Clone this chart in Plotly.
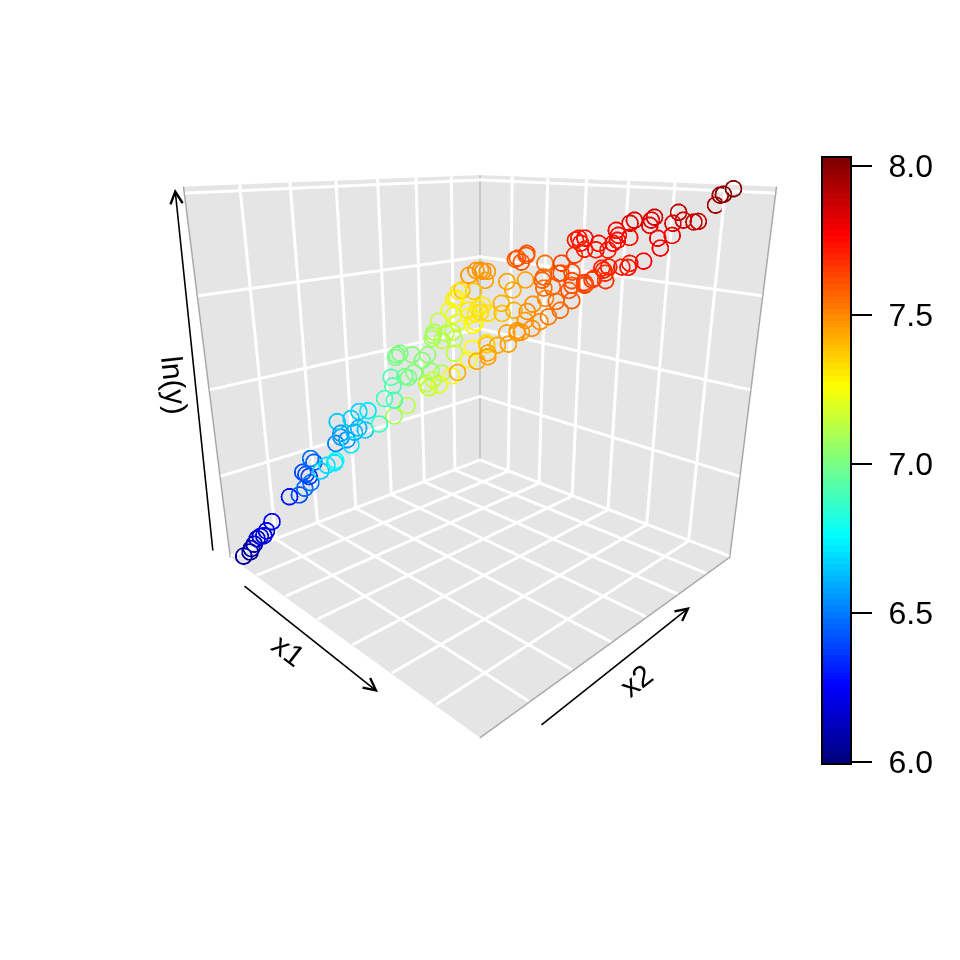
import plotly.graph_objects as go

# values (x1 and x2 have no tick labels, so they are on a 0-1 scale)
x1 = [.06,.06,.07,.07,.09,.11,.13,.11,.09,.04,.18,.21,.21,.04,.04,.04,
      .04,.04,.31,.34,.41,.36,.04,.04,.07,.29,.04,.04,.04,.10,.04,.11,
      .09,.15,.39,.59,.60,.26,.29,.21,.14,.24,.28,.28,.07,.06,.09,.13,
      .19,.20,.34,.44,.53,.56,.57,.63,.53,.08,.11,.05,.04,.21,.15,.17,
      .22,.37,.11,.16,.06,.22,.35,.36,.31,.26,.24,.34,.38,.49,.43,.08,
      .26,.53,.60,.67,.59,.83,.84,.86,.77,.82,.66,.86,.13,.16,.18,.17,
      .16,.24,.17,.17,.04,.07,.30,.37,.32,.36,.41,.35,.35,.33,.36,.56,
      .59,.63,.69,.67,.63,.71,.61,.61,.65,.66,.54,.74,.78,.78,.86,.83,
      .81,.81,.81,.83,.84,.80,.83,.74,.81,.78,.78,.75,.55,.51,.59,.58,
      .49,.70,.70,.85,.87,.90,.83,.65,.92,.89,.86,.85,.77,.75,.78,.88,
      .88,.83,.79,.90,.68,.69,.68,.63,.61,.68,.58,.63,.67,.70,.70,.97,
      .91,.94,.89,.84,.82,.80]
x2 = [.01,.03,.03,.04,.04,.04,.04,.06,.09,.18,.13,.13,.15,.24,.25,.23,
      .26,.27,.12,.12,.10,.13,.35,.37,.37,.23,.36,.41,.44,.43,.37,.37,
      .40,.38,.25,.14,.17,.37,.38,.44,.49,.46,.44,.46,.57,.59,.55,.58,
      .59,.56,.47,.42,.29,.27,.26,.24,.31,.71,.68,.74,.77,.63,.70,.71,
      .67,.53,.77,.74,.83,.73,.62,.62,.67,.73,.77,.66,.65,.59,.65,.78,
      .69,.44,.42,.35,.37,.16,.18,.16,.28,.26,.25,.08,.85,.84,.83,.86,
      .79,.78,.75,.80,.86,.81,.81,.76,.87,.78,.75,.80,.84,.86,.91,.67,
      .63,.59,.55,.55,.55,.44,.67,.68,.63,.66,.82,.56,.51,.50,.41,.49,
      .55,.52,.42,.41,.36,.38,.32,.40,.31,.33,.33,.33,.57,.86,.78,.81,
      .90,.71,.75,.53,.52,.47,.55,.72,.94,.95,.99,.99,.95,.96,.96,.84,
      .86,.83,.83,.67,.98,.95,.96,.96,.97,.87,.95,.89,.83,.77,.70,.50,
      .54,.49,.54,.55,.53,.53]
ln_y = [6.04,6.05,6.08,6.10,6.15,6.18,6.20,6.20,6.22,6.28,6.42,6.48,6.50,6.385,6.365,6.405,
        6.475,6.445,6.65,6.70,6.78,6.72,6.52,6.55,6.55,6.72,6.655,6.65,6.68,6.72,6.575,6.62,
        6.62,6.65,6.88,7.08,7.12,6.90,6.90,6.92,6.92,6.98,7.00,7.02,7.00,7.00,7.00,7.02,
        7.04,7.02,7.05,7.10,7.14,7.14,7.15,7.20,7.15,7.08,7.08,7.08,7.14,7.12,7.12,7.13,
        7.12,7.14,7.20,7.18,7.28,7.24,7.26,7.28,7.30,7.30,7.30,7.32,7.33,7.38,7.40,7.22,
        7.30,7.26,7.32,7.36,7.25,7.42,7.45,7.45,7.42,7.45,7.25,7.42,7.47,7.48,7.48,7.47,
        7.46,7.45,7.38,7.36,7.31,7.28,7.45,7.43,7.45,7.60,7.60,7.60,7.62,7.60,7.55,7.57,
        7.57,7.55,7.58,7.52,7.48,7.50,7.60,7.65,7.62,7.62,7.65,7.62,7.62,7.60,7.60,7.65,
        7.65,7.63,7.58,7.55,7.54,7.50,7.50,7.48,7.48,7.47,7.46,7.45,7.42,7.72,7.73,7.75,
        7.72,7.76,7.72,7.70,7.72,7.68,7.70,7.72,8.02,7.99,7.98,7.93,7.89,7.83,7.85,7.87,
        7.87,7.80,7.78,7.78,7.85,7.84,7.81,7.83,7.81,7.76,7.77,7.76,7.75,7.75,7.73,7.77,
        7.74,7.74,7.72,7.68,7.65,7.62]

grid_vals = [.145, .29, .435, .58, .725, .87]
z_ticks = [6, 6.5, 7, 7.5, 8]
bar_ticks = [6, 6.5, 7, 7.5, 8]
bar_labels = ['6.0', '6.5', '7.0', '7.5', '8.0']
jet = [(0, 0, 127), (0, 0, 255), (0, 127, 255), (0, 255, 255), (127, 255, 127),
       (255, 255, 0), (255, 127, 0), (255, 0, 0), (127, 0, 0)]
z_lo, z_hi = 5.99, 8.03
W = 944  # page has an 8px body margin


def px_x(p):
    return (p - 8) / W


def px_y(p):
    return 1 - (p - 8) / W


# stepped ramp like R's 100 colour jet.col
n_col = 100
scale = []
for i in range(n_col):
    t = i / (n_col - 1) * (len(jet) - 1)
    k = min(int(t), len(jet) - 2)
    c = [round(a + (b - a) * (t - k)) for a, b in zip(jet[k], jet[k + 1])]
    col = f"rgb({c[0]},{c[1]},{c[2]})"
    scale.append([i / n_col, col])
    scale.append([(i + 1) / n_col, col])

# white grid, drawn as lines because the axis grid stays 1px wide
gx, gy, gz = [], [], []


def seg(a, b):
    gx.extend([a[0], b[0], None])
    gy.extend([a[1], b[1], None])
    gz.extend([a[2], b[2], None])


eps_xy = .003
eps_z = .006
for g in grid_vals:
    seg((g, 0, z_lo + eps_z), (g, 1, z_lo + eps_z))     # floor
    seg((0, g, z_lo + eps_z), (1, g, z_lo + eps_z))
    seg((eps_xy, g, z_lo), (eps_xy, g, z_hi))           # left wall
    seg((g, 1 - eps_xy, z_lo), (g, 1 - eps_xy, z_hi))   # right wall
for z in z_ticks:
    seg((eps_xy, 0, z), (eps_xy, 1, z))
    seg((0, 1 - eps_xy, z), (1, 1 - eps_xy, z))

fig = go.Figure()

# grey box edges
fig.add_trace(go.Scatter3d(
    x=[0, 0, None, 0, 1, 1, 1, None, 0, 0],
    y=[0, 0, None, 0, 0, 1, 1, None, 1, 1],
    z=[z_lo, z_hi, None, z_lo, z_lo, z_lo, z_hi, None, z_lo, z_hi],
    mode='lines', line=dict(color='#aaaaaa', width=3),
    hoverinfo='skip', showlegend=False
))
fig.add_trace(go.Scatter3d(
    x=gx, y=gy, z=gz, mode='lines', line=dict(color='white', width=6),
    hoverinfo='skip', showlegend=False
))

fig.add_trace(go.Scatter3d(
    x=x1, y=x2, z=ln_y,
    mode='markers',
    opacity=.99,
    marker=dict(
        symbol='circle-open', size=10, color=ln_y,
        colorscale=scale, cmin=5.993, cmax=8.03,
        line=dict(width=0),
        colorbar=dict(
            x=px_x(822), xanchor='left', xpad=0, y=px_y(460.5), yanchor='middle', ypad=0,
            len=607 / W, thickness=29,
            outlinecolor='black', outlinewidth=2,
            tickmode='array', tickvals=bar_ticks,
            ticktext=['\u2004' + s for s in bar_labels],
            ticks='outside', ticklen=20, tickwidth=2, tickcolor='black',
            tickfont=dict(family='Liberation Sans', size=32, color='black')
        )
    ),
    showlegend=False
))

axis_style = dict(
    title='', showticklabels=False, ticks='', showline=False, zeroline=False, showgrid=False,
    showbackground=True, backgroundcolor='#e5e5e5', showspikes=False
)

fig.update_layout(
    width=W, height=W, margin=dict(l=0, r=0, t=0, b=0),
    paper_bgcolor='white', showlegend=False,
    scene=dict(
        domain=dict(x=[0, 1], y=[px_y(746), px_y(106)]),
        aspectmode='manual', aspectratio=dict(x=1, y=1, z=1.0036),
        camera=dict(eye=dict(x=1.362, y=-1.362, z=.5992), up=dict(x=0, y=0, z=1), center=dict(x=0, y=0, z=-.1061)),
        xaxis=dict(range=[0, 1], **axis_style),
        yaxis=dict(range=[0, 1], **axis_style),
        zaxis=dict(range=[z_lo, z_hi], **axis_style),
    )
)

# arrows and axis names sit beside the box
for head, tail in [((378, 692), (243, 585)), ((690, 607), (540, 726)), ((175, 189), (213, 552))]:
    fig.add_annotation(x=px_x(head[0]), y=px_y(head[1]), xref='paper', yref='paper',
                       ax=tail[0] - head[0], ay=tail[1] - head[1], axref='pixel', ayref='pixel',
                       text='', showarrow=True, arrowhead=5, arrowsize=1.5, arrowwidth=1.6, arrowcolor='black')
for label, px, py, angle in [('x1', 289, 650, 38), ('x2', 636, 680, -38), ('ln(y)', 175, 385, 84)]:
    fig.add_annotation(x=px_x(px), y=px_y(py), xref='paper', yref='paper', text=label, showarrow=False,
                       xanchor='center', yanchor='middle', textangle=angle,
                       font=dict(family='Liberation Sans', size=30, color='black'))

fig.write_html("out.html")
